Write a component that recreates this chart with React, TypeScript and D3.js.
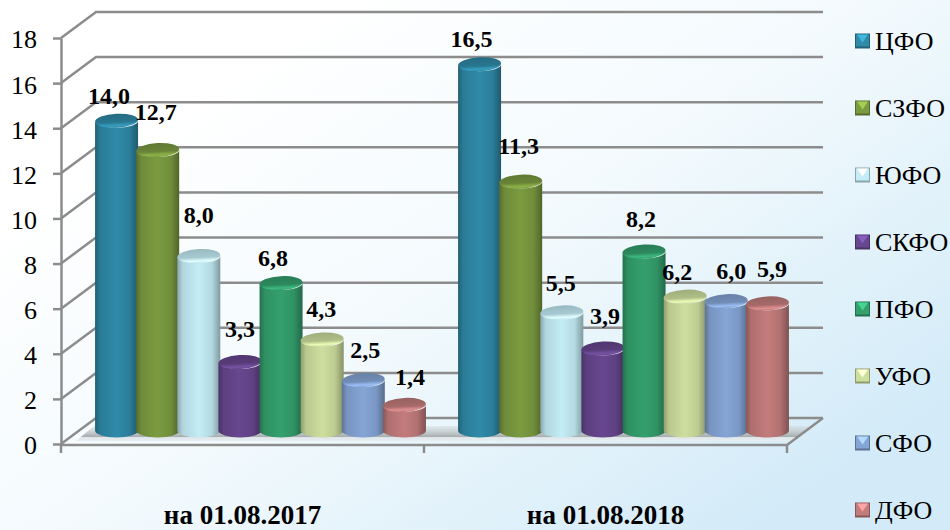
import React, { useEffect, useRef } from 'react'
import * as d3 from 'd3'

const groups = ['на 01.08.2017', 'на 01.08.2018']
const districts = ['ЦФО', 'СЗФО', 'ЮФО', 'СКФО', 'ПФО', 'УФО', 'СФО', 'ДФО']
const values2017 = [14.0, 12.7, 8.0, 3.3, 6.8, 4.3, 2.5, 1.4]
const values2018 = [16.5, 11.3, 5.5, 3.9, 8.2, 6.2, 6.0, 5.9]
const yTicks = [0, 2, 4, 6, 8, 10, 12, 14, 16, 18]
const barColors = ['#2f8aa8', '#7b9b40', '#c4edf6', '#67478f', '#34a06d', '#cddf9f', '#85a5d6', '#c37c7c']

// hand placed data labels in the source chart: offset from the top of each bar
const labelShift2017 = [[-7.6, -17], [-2, -30.5], [0, -33], [0, -25], [-8, -17], [-1, -23], [2, -22], [5.5, -20]]
const labelShift2018 = [[-8, -17], [-2, -27.6], [-1, -21.5], [2, -24.5], [-3, -25], [-8, -17], [5, -22], [4.5, -26.7]]

const width = 950
const height = 530
const serif = '"Liberation Serif", serif'
const gridColor = '#8c8c8c'
const depth = { x: 35, y: -26 }

const yAxisScale = d3.scaleLinear().domain([0, 18]).range([444, 38])
const yBar = d3.scaleLinear().domain([0, 18]).range([436.5, 30.5])
const barBase = 430.5
const xGroup = d3.scaleBand().domain(groups).range([61, 787])
const xBar = d3.scaleBand().domain(districts).range([35, 364])
const yLegend = d3.scalePoint().domain(districts).range([41, 510])

const rx = 21.5
const ry = 7

function cylinder(x: number, top: number, base: number) {
  const w = rx * 2
  return `M${x},${top}V${base}A${rx},${ry} 0 0 0 ${x + w},${base}V${top}A${rx},${ry} 0 0 1 ${x},${top}Z`
}

function Defs() {
  return (
    <defs>
      <linearGradient id="bg" gradientUnits="userSpaceOnUse" x1="330" y1="0" x2="700" y2="560">
        <stop offset="0" stopColor="#ffffff" />
        <stop offset="0.45" stopColor="#f3fafd" />
        <stop offset="1" stopColor="#d3ebf8" />
      </linearGradient>
      <linearGradient id="floor" x1="0" y1="0" x2="0" y2="1">
        <stop offset="0" stopColor="#cfd5d6" stopOpacity="0.4" />
        <stop offset="0.75" stopColor="#a3a9aa" />
        <stop offset="0.76" stopColor="#dfe6e9" />
        <stop offset="1" stopColor="#e6eef1" />
      </linearGradient>
      {barColors.map((c, i) => {
        const base = d3.color(c)!
        return (
          <React.Fragment key={i}>
            <linearGradient id={`body${i}`} x1="0" y1="0" x2="1" y2="0">
              <stop offset="0" stopColor={base.darker(1).formatHex()} />
              <stop offset="0.12" stopColor={base.darker(0.3).formatHex()} />
              <stop offset="0.5" stopColor={base.formatHex()} />
              <stop offset="0.8" stopColor={base.darker(0.25).formatHex()} />
              <stop offset="1" stopColor={base.darker(1.2).formatHex()} />
            </linearGradient>
            <linearGradient id={`cap${i}`} x1="0" y1="0" x2="0" y2="1">
              <stop offset="0" stopColor={base.darker(0.7).formatHex()} />
              <stop offset="0.6" stopColor={base.darker(0.45).formatHex()} />
              <stop offset="0.85" stopColor={base.brighter(0.4).formatHex()} />
              <stop offset="1" stopColor={base.darker(0.1).formatHex()} />
            </linearGradient>
          </React.Fragment>
        )
      })}
    </defs>
  )
}

function Wall() {
  const [x0, x1] = xGroup.range()
  return (
    <g fill="none" stroke={gridColor} strokeWidth={2.5}>
      {yTicks.map(t => {
        const y = yAxisScale(t)
        return (
          <path
            key={t}
            d={`M${x0},${y}L${x0 + depth.x},${y + depth.y}H${x1 + depth.x + 1}`}
          />
        )
      })}
    </g>
  )
}

function Floor() {
  const y0 = yAxisScale(0)
  const [x0, x1] = xGroup.range()
  return (
    <path
      d={`M${x0 + 15},${y0 - 3}L${x0 + 33},${y0 - 18}H${x1 + 24}L${x1 + 6},${y0 - 3}Z`}
      fill="url(#floor)"
    />
  )
}

function FrontAxes() {
  const yRef = useRef<SVGGElement>(null)
  useEffect(() => {
    const g = d3.select(yRef.current)
    g.call(d3.axisLeft(yAxisScale).tickValues(yTicks).tickSize(8).tickPadding(16).tickSizeOuter(0) as any)
    g.selectAll('path,line').attr('stroke', gridColor).attr('stroke-width', 2.5)
    g.selectAll('text')
      .attr('font-size', 26)
      .attr('font-family', serif)
      .attr('fill', '#000')
      .attr('dy', '0.38em')
  }, [])
  const y0 = yAxisScale(0) + 1
  const [x0, x1] = xGroup.range()
  const edges = [...groups.map(g => xGroup(g)!), x1]
  return (
    <g>
      <g ref={yRef} transform={`translate(${x0},0)`} />
      <g stroke={gridColor} strokeWidth={2.5} fill="none">
        <path d={`M${x0},${y0}H${x1}L${x1 + depth.x + 1},${y0 + depth.y - 1}`} />
        {edges.map(x => (
          <line key={x} x1={x} x2={x} y1={y0} y2={y0 + 8} />
        ))}
      </g>
    </g>
  )
}

function Bars({ group, values, shifts }: { group: string; values: number[]; shifts: number[][] }) {
  const start = xGroup(group)!
  const center = (d: string) => start + xBar(d)! + xBar.bandwidth() / 2
  return (
    <g>
      {districts.map((d, i) => {
        const x = center(d) - rx
        const top = yBar(values[i])
        return (
          <g key={d}>
            <path d={cylinder(x, top, barBase)} fill={`url(#body${i})`} />
            <ellipse
              cx={x + rx}
              cy={top}
              rx={rx}
              ry={ry}
              fill={`url(#cap${i})`}
              transform={`rotate(-3 ${x + rx} ${top})`}
            />
          </g>
        )
      })}
      {districts.map((d, i) => (
        <text
          key={d}
          x={center(d) + shifts[i][0]}
          y={yBar(values[i]) + shifts[i][1]}
          textAnchor="middle"
          fontFamily={serif}
          fontWeight="bold"
          fontSize={24}
          fill="#000"
        >
          {values[i].toFixed(1).replace('.', ',')}
        </text>
      ))}
    </g>
  )
}

function Legend() {
  const s = 15
  return (
    <g>
      {districts.map((d, i) => {
        const y = yLegend(d)!
        const c = d3.color(barColors[i])!
        return (
          <g key={d} transform={`translate(855,${y - s / 2})`}>
            <rect width={s} height={s} fill={c.darker(1).formatHex()} />
            <rect x={1} y={1} width={s - 2} height={s - 3} fill={c.formatHex()} />
            <path d={`M2,1H${s - 2}L${s / 2},${s - 6}Z`} fill={c.brighter(0.8).formatHex()} />
            <text x={20} y={s / 2 + 9} fontFamily={serif} fontSize={26} fill="#000">
              {d}
            </text>
          </g>
        )
      })}
    </g>
  )
}

export default function App() {
  useEffect(() => {
    document.body.style.margin = '0'
  }, [])
  return (
    <svg width={width} height={height} style={{ position: 'fixed', left: 0, top: 0 }}>
      <Defs />
      <rect width={width} height={height} fill="url(#bg)" />
      <Wall />
      <Floor />
      <FrontAxes />
      <Bars group={groups[0]} values={values2017} shifts={labelShift2017} />
      <Bars group={groups[1]} values={values2018} shifts={labelShift2018} />
      {groups.map(g => (
        <text
          key={g}
          x={xGroup(g)! + xGroup.bandwidth() / 2}
          y={524}
          textAnchor="middle"
          fontFamily={serif}
          fontWeight="bold"
          fontSize={27}
          fill="#000"
        >
          {g}
        </text>
      ))}
      <Legend />
    </svg>
  )
}
